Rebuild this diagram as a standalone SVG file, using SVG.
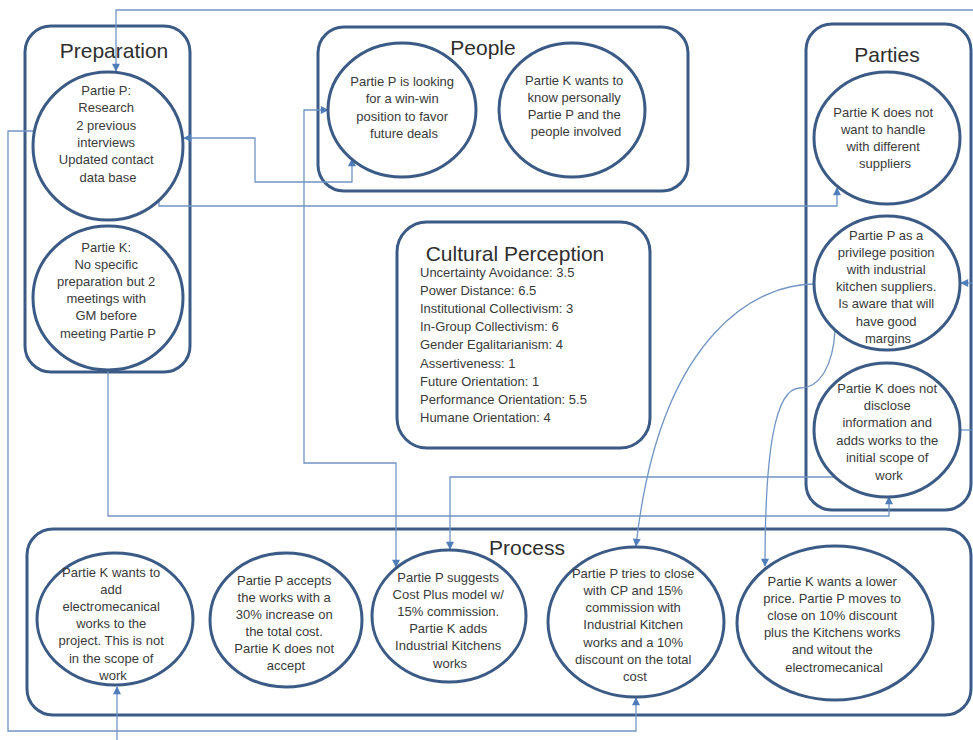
<svg xmlns="http://www.w3.org/2000/svg" width="973" height="740" viewBox="0 0 973 740">
  <style>
    .box { fill: none; stroke: #3b5b86; stroke-width: 3; }
    .node { fill: #ffffff; stroke: #3b5b86; stroke-width: 3; }
    .title { font-family: "Liberation Sans", Arial, sans-serif; font-size: 21px; fill: #2e2e2e; text-anchor: middle; }
    .txt { font-family: "Liberation Sans", Arial, sans-serif; font-size: 13px; fill: #3a3a3a; text-anchor: middle; }
    .list { font-family: "Liberation Sans", Arial, sans-serif; font-size: 13px; fill: #3a3a3a; }
    .link { fill: none; stroke: #7094c4; stroke-width: 1.3; }
  </style>
  <defs>
    <marker id="arrow" viewBox="0 0 10 10" refX="9" refY="5" markerWidth="9" markerHeight="8" markerUnits="userSpaceOnUse" orient="auto-start-reverse">
      <path d="M0,0 L10,5 L0,10 Z" fill="#4f7dba"/>
    </marker>
  </defs>

  <rect width="973" height="740" fill="#ffffff"/>

  <!-- group containers -->
  <g id="preparation">
    <rect class="box" x="25" y="26" width="165" height="346" rx="26"/>
    <text class="title" x="114" y="58">Preparation</text>
  </g>
  <g id="people">
    <rect class="box" x="318" y="27" width="370" height="164" rx="26"/>
    <text class="title" x="483" y="55">People</text>
  </g>
  <g id="parties">
    <rect class="box" x="806" y="24" width="165" height="486" rx="26"/>
    <text class="title" x="887" y="62">Parties</text>
  </g>
  <g id="cultural-perception">
    <rect class="box" x="397" y="222" width="253" height="226" rx="30"/>
    <text class="title" x="515" y="261">Cultural Perception</text>
    <text class="list" x="420" y="277">
      <tspan x="420" dy="0">Uncertainty Avoidance: 3.5</tspan>
      <tspan x="420" dy="18.1">Power Distance: 6.5</tspan>
      <tspan x="420" dy="18.1">Institutional Collectivism: 3</tspan>
      <tspan x="420" dy="18.1">In-Group Collectivism: 6</tspan>
      <tspan x="420" dy="18.1">Gender Egalitarianism: 4</tspan>
      <tspan x="420" dy="18.1">Assertiveness: 1</tspan>
      <tspan x="420" dy="18.1">Future Orientation: 1</tspan>
      <tspan x="420" dy="18.1">Performance Orientation: 5.5</tspan>
      <tspan x="420" dy="18.1">Humane Orientation: 4</tspan>
    </text>
  </g>
  <g id="process">
    <rect class="box" x="27" y="529" width="944" height="186" rx="26"/>
    <text class="title" x="527" y="555">Process</text>
  </g>

  <!-- connectors -->
  <g id="connectors">
    <path class="link" d="M973 10 H116 V71" marker-end="url(#arrow)"/>
    <path class="link" d="M33 131 H8 V731 H636 V698" marker-end="url(#arrow)"/>
    <path class="link" d="M184 138 H255 V182 H352 V159" marker-start="url(#arrow)" marker-end="url(#arrow)"/>
    <path class="link" d="M159 200 V206 H837 V188" marker-end="url(#arrow)"/>
    <path class="link" d="M328 110 H304 V463 H396 V567" marker-start="url(#arrow)" marker-end="url(#arrow)"/>
    <path class="link" d="M835 477 H450 V549" marker-end="url(#arrow)"/>
    <path class="link" d="M108 371 V516 H889 V497" marker-end="url(#arrow)"/>
    <path class="link" d="M814 284 C760 284 660 330 636 546" marker-end="url(#arrow)"/>
    <path class="link" d="M835 331 C833 365 820 388 800 388 C775 388 765 450 765 566" marker-end="url(#arrow)"/>
    <path class="link" d="M973 283 H961" marker-end="url(#arrow)"/>
    <path class="link" d="M960 430 H973"/>
    <path class="link" d="M117 740 V687" marker-end="url(#arrow)"/>
  </g>

  <!-- Preparation nodes -->
  <g id="prep-partie-p">
    <ellipse class="node" cx="108" cy="146" rx="75" ry="74"/>
    <text class="txt" y="95">
      <tspan x="108" dy="0">Partie P:</tspan>
      <tspan x="108" dy="17.3">Research</tspan>
      <tspan x="108" dy="17.3">2 previous</tspan>
      <tspan x="108" dy="17.3">interviews</tspan>
      <tspan x="108" dy="17.3">Updated contact</tspan>
      <tspan x="108" dy="17.3">data base</tspan>
    </text>
  </g>
  <g id="prep-partie-k">
    <ellipse class="node" cx="108" cy="298" rx="75" ry="72"/>
    <text class="txt" y="251.5">
      <tspan x="108" dy="0">Partie K:</tspan>
      <tspan x="108" dy="17.2">No specific</tspan>
      <tspan x="108" dy="17.2">preparation but 2</tspan>
      <tspan x="108" dy="17.2">meetings with</tspan>
      <tspan x="108" dy="17.2">GM before</tspan>
      <tspan x="108" dy="17.2">meeting Partie P</tspan>
    </text>
  </g>

  <!-- People nodes -->
  <g id="people-partie-p">
    <ellipse class="node" cx="402" cy="110" rx="74" ry="67"/>
    <text class="txt" y="86">
      <tspan x="404" dy="0">Partie P is looking</tspan>
      <tspan x="404" dy="17.3">for a win-win</tspan>
      <tspan x="404" dy="17.3">position to favor</tspan>
      <tspan x="404" dy="17.3">future deals</tspan>
    </text>
  </g>
  <g id="people-partie-k">
    <ellipse class="node" cx="572" cy="110" rx="73" ry="67"/>
    <text class="txt" y="84.5">
      <tspan x="576" dy="0">Partie K wants to</tspan>
      <tspan x="576" dy="17">know personally</tspan>
      <tspan x="576" dy="17">Partie P and the</tspan>
      <tspan x="576" dy="17">people involved</tspan>
    </text>
  </g>

  <!-- Parties nodes -->
  <g id="parties-k-suppliers">
    <ellipse class="node" cx="887" cy="138" rx="73" ry="66"/>
    <text class="txt" y="116.5">
      <tspan x="885" dy="0">Partie K does not</tspan>
      <tspan x="885" dy="17">want to handle</tspan>
      <tspan x="885" dy="17">with different</tspan>
      <tspan x="885" dy="17">suppliers</tspan>
    </text>
  </g>
  <g id="parties-p-privilege">
    <ellipse class="node" cx="887" cy="283" rx="73" ry="67"/>
    <text class="txt" y="239.5">
      <tspan x="888" dy="0">Partie P as a</tspan>
      <tspan x="888" dy="17.2">privilege position</tspan>
      <tspan x="888" dy="17.2">with industrial</tspan>
      <tspan x="888" dy="17.2">kitchen suppliers.</tspan>
      <tspan x="888" dy="17.2">Is aware that will</tspan>
      <tspan x="888" dy="17.2">have good</tspan>
      <tspan x="888" dy="17.2">margins</tspan>
    </text>
  </g>
  <g id="parties-k-disclose">
    <ellipse class="node" cx="887" cy="430" rx="73" ry="67"/>
    <text class="txt" y="392.5">
      <tspan x="889" dy="0">Partie K does not</tspan>
      <tspan x="889" dy="17.4">disclose</tspan>
      <tspan x="889" dy="17.4">information and</tspan>
      <tspan x="889" dy="17.4">adds works to the</tspan>
      <tspan x="889" dy="17.4">initial scope of</tspan>
      <tspan x="889" dy="17.4">work</tspan>
    </text>
  </g>

  <!-- Process nodes -->
  <g id="process-1">
    <ellipse class="node" cx="115" cy="619" rx="78" ry="66"/>
    <text class="txt" y="576.5">
      <tspan x="113" dy="0">Partie K wants to</tspan>
      <tspan x="113" dy="17.2">add</tspan>
      <tspan x="113" dy="17.2">electromecanical</tspan>
      <tspan x="113" dy="17.2">works to the</tspan>
      <tspan x="113" dy="17.2">project. This is not</tspan>
      <tspan x="113" dy="17.2">in the scope of</tspan>
      <tspan x="113" dy="17.2">work</tspan>
    </text>
  </g>
  <g id="process-2">
    <ellipse class="node" cx="286" cy="620" rx="76" ry="67"/>
    <text class="txt" y="584.5">
      <tspan x="286" dy="0">Partie P accepts</tspan>
      <tspan x="286" dy="17">the works with a</tspan>
      <tspan x="286" dy="17">30% increase on</tspan>
      <tspan x="286" dy="17">the total cost.</tspan>
      <tspan x="286" dy="17">Partie K does not</tspan>
      <tspan x="286" dy="17">accept</tspan>
    </text>
  </g>
  <g id="process-3">
    <ellipse class="node" cx="449" cy="616" rx="77" ry="66"/>
    <text class="txt" y="581.5">
      <tspan x="450" dy="0">Partie P suggests</tspan>
      <tspan x="450" dy="17.2">Cost Plus model w/</tspan>
      <tspan x="450" dy="17.2">15% commission.</tspan>
      <tspan x="450" dy="17.2">Partie K adds</tspan>
      <tspan x="450" dy="17.2">Industrial Kitchens</tspan>
      <tspan x="450" dy="17.2">works</tspan>
    </text>
  </g>
  <g id="process-4">
    <ellipse class="node" cx="636" cy="622" rx="88" ry="75"/>
    <text class="txt" y="577.5">
      <tspan x="635" dy="0">Partie P tries to close</tspan>
      <tspan x="635" dy="17.3">with CP and 15%</tspan>
      <tspan x="635" dy="17.3">commission with</tspan>
      <tspan x="635" dy="17.3">Industrial Kitchen</tspan>
      <tspan x="635" dy="17.3">works and a 10%</tspan>
      <tspan x="635" dy="17.3">discount on the total</tspan>
      <tspan x="635" dy="17.3">cost</tspan>
    </text>
  </g>
  <g id="process-5">
    <ellipse class="node" cx="835" cy="623" rx="98" ry="77"/>
    <text class="txt" y="585.5">
      <tspan x="834" dy="0">Partie K wants a lower</tspan>
      <tspan x="834" dy="17.2">price. Partie P moves to</tspan>
      <tspan x="834" dy="17.2">close on 10% discount</tspan>
      <tspan x="834" dy="17.2">plus the Kitchens works</tspan>
      <tspan x="834" dy="17.2">and witout the</tspan>
      <tspan x="834" dy="17.2">electromecanical</tspan>
    </text>
  </g>
</svg>
